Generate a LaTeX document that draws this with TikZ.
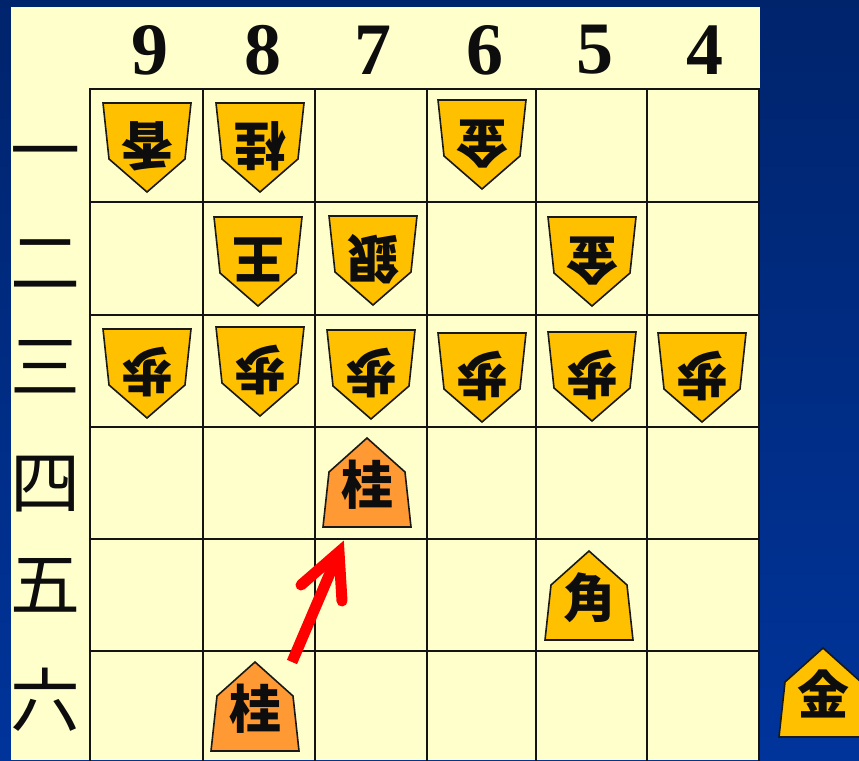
\documentclass[tikz,border=0pt]{standalone}
\usepackage{fontspec}
\usetikzlibrary{calc}
\setmainfont{Liberation Serif}
\newfontfamily\cjkfont{Noto Sans CJK JP}
\definecolor{bgtop}{RGB}{0,36,108}
\definecolor{bgbot}{RGB}{0,52,155}
\definecolor{boardcol}{RGB}{255,255,204}
\definecolor{pcyellow}{RGB}{255,192,0}
\definecolor{pcorange}{RGB}{255,153,51}
\definecolor{arrowred}{RGB}{255,0,0}
\newcommand{\gotepc}[4]{%
  \draw[pcline,fill=pcyellow] ({#2-44},#3) -- ({#2+44},#3) -- ({#2+38},{#3+56}) -- (#2,{#3+89}) -- ({#2-38},{#3+56}) -- cycle;
  \node[pctext,rotate=180] (#1) at (#2,{#3+43}) {#4};}
\newcommand{\sentepc}[5]{%
  \draw[pcline,fill=#5] (#2,#3) -- ({#2+38},{#3+34}) -- ({#2+44},{#3+89}) -- ({#2-44},{#3+89}) -- ({#2-38},{#3+34}) -- cycle;
  \node[pctext] (#1) at (#2,{#3+47}) {#4};}
\begin{document}
\begin{tikzpicture}[x=1pt,y=-1pt,
  gridline/.style={line width=2pt,draw=black!92},
  pcline/.style={draw=black!90,line width=1.6pt,line join=miter},
  pctext/.style={inner sep=0pt,text height=45.8pt,text depth=6.2pt,font=\cjkfont\bfseries\fontsize{52}{52}\selectfont,text=black!95},
  collab/.style={inner sep=0pt,font=\bfseries\fontsize{74}{74}\selectfont,text=black!95},
  rowlab/.style={inner sep=0pt,text height=61.6pt,text depth=8.4pt,font=\cjkfont\fontsize{70}{70}\selectfont,text=black!95},
  movearrow/.style={draw=arrowred,line width=11pt}]
\useasboundingbox (0,0) rectangle (859,760);
\shade[top color=bgtop,bottom color=bgbot] (0,0) rectangle (859,760);
\fill[boardcol] (11,7) rectangle (760,760);
\foreach \x in {90,203,315,427,536,647,759} \draw[gridline] (\x,89) -- (\x,761);
\foreach \y in {89,202,315,427,539,651} \draw[gridline] (89,\y) -- (760,\y);
% column labels
\node[collab] (c9) at (150,50) {9};
\node[collab] (c8) at (263,50) {8};
\node[collab] (c7) at (373,50) {7};
\node[collab] (c6) at (485,50) {6};
\node[collab] (c5) at (595,50) {5};
\node[collab] (c4) at (705,50) {4};
% row labels
\node[rowlab] (r1) at (45,150) {一};
\node[rowlab] (r2) at (45,262) {二};
\node[rowlab] (r3) at (45,366) {三};
\node[rowlab] (r4) at (45,482) {四};
\node[rowlab] (r5) at (45,584) {五};
\node[rowlab] (r6) at (45,700) {六};
% gote pieces
\gotepc{p91}{147}{103}{香}
\gotepc{p81}{260}{103}{桂}
\gotepc{p61}{482}{100}{金}
\gotepc{p82}{258}{217}{王}
\gotepc{p72}{373}{216}{銀}
\gotepc{p52}{592}{217}{金}
\gotepc{p93}{147}{329}{歩}
\gotepc{p83}{260}{327}{歩}
\gotepc{p73}{371}{330}{歩}
\gotepc{p63}{482}{333}{歩}
\gotepc{p53}{592}{332}{歩}
\gotepc{p43}{702}{333}{歩}
% sente pieces
\sentepc{s74}{367}{438}{桂}{pcorange}
\sentepc{s55}{589}{551}{角}{pcyellow}
\sentepc{s86}{255}{662}{桂}{pcorange}
\sentepc{hand}{823}{648}{金}{pcyellow}
% move arrow
\coordinate (mvfrom) at (292,662);
\coordinate (mvto) at (339,552);
\coordinate (wingl) at (301,585);
\coordinate (wingr) at (342,601);
\draw[movearrow] (mvfrom) -- ($(mvfrom)!0.93!(mvto)$);
\draw[movearrow,line cap=round,line join=miter] (wingl) -- (mvto) -- (wingr);
\end{tikzpicture}
\end{document}
